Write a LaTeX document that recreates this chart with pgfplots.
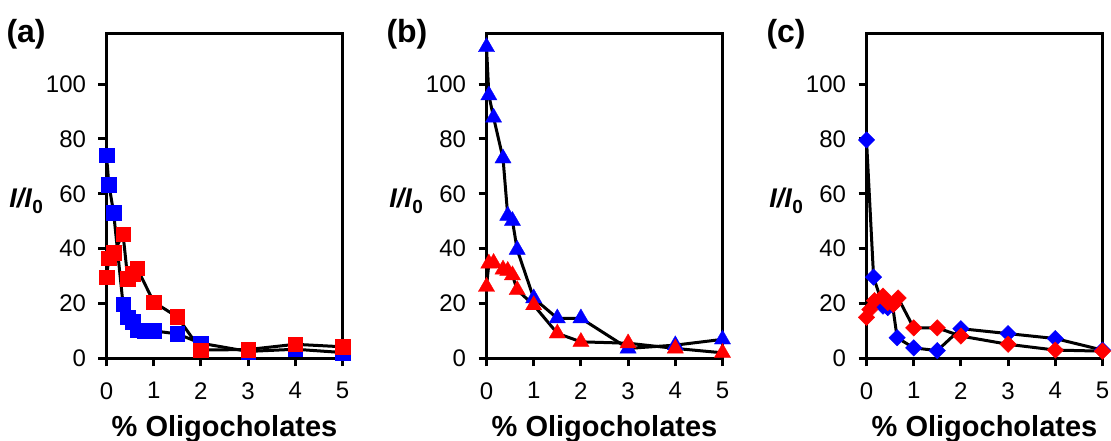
\documentclass[border=0pt]{standalone}
\usepackage{fontspec}
\setmainfont{Liberation Sans}
\usepackage{pgfplots}
\pgfplotsset{compat=1.18}
\definecolor{mblue}{RGB}{0,0,255}
\definecolor{mred}{RGB}{255,0,0}
\pgfplotsset{
  panel/.style={
    scale only axis, width=236pt, height=325pt,
    xmin=0, xmax=5, ymin=0, ymax=118.5,
    xtick={0,1,2,3,4,5}, ytick={0,20,40,60,80,100},
    axis line style={line width=3.4pt, black},
    every outer x axis line/.append style={line width=3.4pt},
    every outer y axis line/.append style={line width=3.4pt},
    tick style={line width=3pt, black},
    major tick length=8pt,
    tick align=outside,
    xtick pos=left, ytick pos=left,
    clip=false,
    tick label style={font=\fontsize{24}{26}\selectfont, /pgf/number format/assume math mode=true},
    xticklabel style={yshift=-12.5pt},
    yticklabel style={xshift=-9pt},
    xlabel={\% Oligocholates},
    xlabel style={at={(axis description cs:0.5,0)}, anchor=base, yshift=-78.7pt, font=\bfseries\fontsize{29}{30}\selectfont},
  },
  ln/.style={black, line width=3pt, no marks},
  bl/.style={only marks, mblue, mark options={fill=mblue, draw=mblue, line width=0.3pt}},
  rd/.style={only marks, mred, mark options={fill=mred, draw=mred, line width=0.3pt}},
}
\newcommand{\ylab}{\node[anchor=base east, font=\fontsize{27}{28}\selectfont] at (rel axis cs:0,0) [xshift=-60pt, yshift=150.3pt] {\textbf{\textit{I/I}}\raisebox{-6pt}{\fontsize{19}{19}\selectfont\textbf{0}}};}
\newcommand{\plab}[1]{\node[anchor=base west, font=\bfseries\fontsize{32}{32}\selectfont] at (rel axis cs:0,1) [xshift=-103.5pt, yshift=-9.7pt] {#1};}
\begin{document}
\begin{tikzpicture}
% ---------------- (a)
\begin{axis}[panel, at={(106.5pt,82.7pt)}, anchor=south west]
\addplot[ln] coordinates {(0,74)(0.05,63.4)(0.15,53.2)(0.35,19.8)(0.45,15)(0.55,13.4)(0.65,10.3)(0.8,10)(1,10)(1.5,8.9)(2,5.5)(3,2.5)(4,3.3)(5,2.1)};
\addplot[ln] coordinates {(0,29.6)(0.05,36.5)(0.15,38.5)(0.35,45.3)(0.45,29)(0.55,30.8)(0.65,32.8)(1,20.5)(1.5,15.1)(2,3)(3,3.2)(4,5.1)(5,4.2)};
\addplot[bl, mark=square*, mark size=7.3pt] coordinates {(0,74)(0.05,63.4)(0.15,53.2)(0.35,19.8)(0.45,15)(0.55,13.4)(0.65,10.3)(0.8,10)(1,10)(1.5,8.9)(2,5.5)(3,2.5)(4,3.3)(5,2.1)};
\addplot[rd, mark=square*, mark size=7.3pt] coordinates {(0,29.6)(0.05,36.5)(0.15,38.5)(0.35,45.3)(0.45,29)(0.55,30.8)(0.65,32.8)(1,20.5)(1.5,15.1)(2,3)(3,3.2)(4,5.1)(5,4.2)};
\ylab
\plab{(a)}
\end{axis}
% ---------------- (b)
\begin{axis}[panel, at={(486.5pt,82.7pt)}, anchor=south west]
\addplot[ln] coordinates {(0,113.5)(0.05,95.9)(0.15,87.8)(0.35,72.9)(0.45,52)(0.55,50.1)(0.65,39.6)(1,21.9)(1.5,14.6)(2,14.6)(3,3.6)(4,4.8)(5,6.9)};
\addplot[ln] coordinates {(0,26.1)(0.05,34.6)(0.15,34.8)(0.35,32.4)(0.45,31.9)(0.55,30.3)(0.65,24.9)(1,19.4)(1.5,9.1)(2,6)(3,5.5)(4,3.6)(5,2)};
\addplot[bl, mark=triangle*, mark size=9.4pt] coordinates {(0,113.5)(0.05,95.9)(0.15,87.8)(0.35,72.9)(0.45,52)(0.55,50.1)(0.65,39.6)(1,21.9)(1.5,14.6)(2,14.6)(3,3.6)(4,4.8)(5,6.9)};
\addplot[rd, mark=triangle*, mark size=9.4pt] coordinates {(0,26.1)(0.05,34.6)(0.15,34.8)(0.35,32.4)(0.45,31.9)(0.55,30.3)(0.65,24.9)(1,19.4)(1.5,9.1)(2,6)(3,5.5)(4,3.6)(5,2)};
\ylab
\plab{(b)}
\end{axis}
% ---------------- (c)
\begin{axis}[panel, at={(866.5pt,82.7pt)}, anchor=south west]
\addplot[ln] coordinates {(0,79.6)(0.15,29.6)(0.35,19)(0.45,18.5)(0.55,19.5)(0.65,7.5)(1,3.8)(1.5,2.8)(2,10.8)(3,9)(4,7.2)(5,3)};
\addplot[ln] coordinates {(0,14.9)(0.07,17.8)(0.17,21)(0.35,22.7)(0.45,20.3)(0.57,19.6)(0.67,22)(1,11.1)(1.5,11.1)(2,8.1)(3,5.1)(4,3)(5,2.6)};
\addplot[bl, mark=square*, mark size=5.8pt, mark options={rotate=45}] coordinates {(0,79.6)(0.15,29.6)(0.35,19)(0.45,18.5)(0.55,19.5)(0.65,7.5)(1,3.8)(1.5,2.8)(2,10.8)(3,9)(4,7.2)(5,3)};
\addplot[rd, mark=square*, mark size=5.8pt, mark options={rotate=45}] coordinates {(0,14.9)(0.07,17.8)(0.17,21)(0.35,22.7)(0.45,20.3)(0.57,19.6)(0.67,22)(1,11.1)(1.5,11.1)(2,8.1)(3,5.1)(4,3)(5,2.6)};
\ylab
\plab{(c)}
\end{axis}
\pgfresetboundingbox
\useasboundingbox (0,0) rectangle (1111pt,441pt);
\end{tikzpicture}
\end{document}
